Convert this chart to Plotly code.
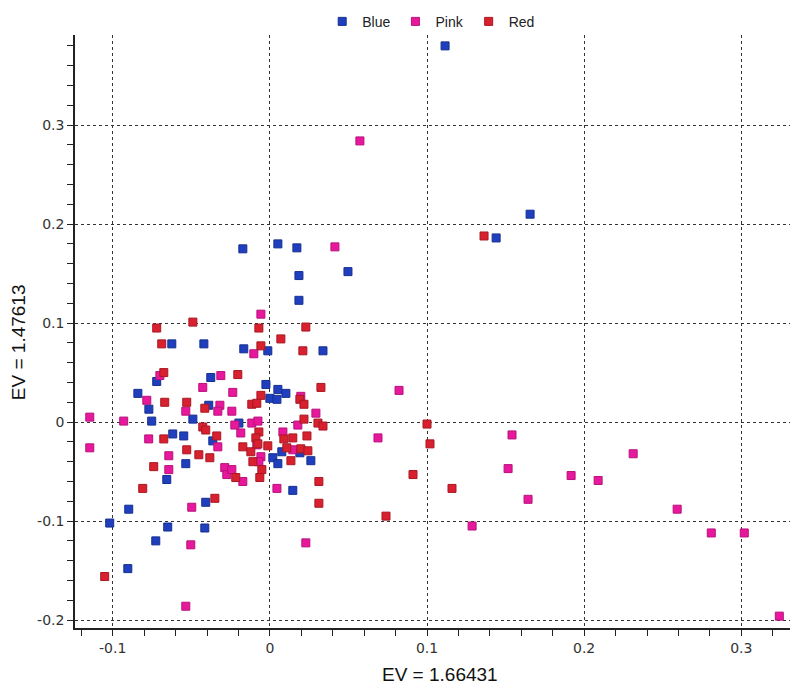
import plotly.graph_objects as go

blue_x = [0.1115, 0.1656, 0.144, 0.0497, 0.0051, -0.0172, 0.0172, 0.0185, 0.0185, 0.0338,
          -0.0624, -0.042, -0.0166, -0.0013, -0.072, -0.0376, -0.084, -0.077, -0.0389, -0.0752,
          -0.049, -0.0618, -0.0548, -0.0025, 0.000, 0.0045, 0.0051, 0.0102, -0.0197, -0.0363,
          -0.0535, -0.0656, -0.0898, -0.0408, -0.1019, -0.0904, -0.0726, -0.065, -0.0414, 0.0146,
          0.0019, 0.0051, 0.0076, 0.0191, 0.0261]
blue_y = [0.380, 0.210, 0.186, 0.152, 0.180, 0.175, 0.176, 0.148, 0.123, 0.072,
          0.079, 0.079, 0.074, 0.072, 0.041, 0.045, 0.029, 0.013, 0.017, 0.001,
          0.003, -0.012, -0.014, 0.038, 0.024, 0.023, 0.033, 0.029, -0.001, -0.019,
          -0.042, -0.058, -0.088, -0.081, -0.102, -0.148, -0.120, -0.106, -0.107, -0.069,
          -0.036, -0.042, -0.030, -0.031, -0.039]

pink_x = [0.0573, 0.0414, -0.0057, -0.0102, -0.070, -0.0427, -0.0783, -0.0535, -0.1146, -0.093,
          -0.0771, -0.0312, -0.0236, 0.0197, -0.0318, -0.0331, -0.0242, 0.0293, 0.0178, -0.0223,
          -0.0115, -0.0076, -0.0185, 0.0083, -0.1146, -0.0643, -0.0643, -0.0497, -0.0331, -0.0057,
          -0.007, -0.0287, -0.0274, -0.0242, -0.0172, 0.0045, 0.0146, -0.0503, -0.0535, 0.0229,
          0.0822, 0.0688, 0.1541, 0.1516, 0.1643, 0.1287, 0.1917, 0.2089, 0.2312, 0.2592,
          0.2809, 0.3019, 0.3242, -0.0083]
pink_y = [0.284, 0.177, 0.109, 0.069, 0.047, 0.035, 0.022, 0.011, 0.005, 0.001,
          -0.017, 0.047, 0.030, 0.026, 0.017, 0.011, 0.011, 0.009, -0.003, -0.003,
          -0.001, 0.001, -0.011, -0.010, -0.026, -0.034, -0.048, -0.086, -0.025, -0.035,
          -0.040, -0.046, -0.053, -0.048, -0.060, -0.067, -0.028, -0.124, -0.186, -0.122,
          0.032, -0.016, -0.013, -0.047, -0.078, -0.105, -0.054, -0.059, -0.032, -0.088,
          -0.112, -0.112, -0.196, -0.023]

red_x = [0.1363, 0.1000, 0.1019, 0.0911, 0.1159, 0.0739, -0.072, -0.049, -0.0688, -0.007,
         0.0229, 0.007, -0.0057, 0.021, -0.0675, -0.0669, -0.0529, -0.0414, -0.0427, -0.0408,
         -0.0675, -0.0204, -0.0057, 0.0325, 0.0191, 0.0217, -0.0115, -0.0083, 0.0217, 0.0306,
         0.0338, -0.007, -0.0338, 0.0146, 0.0236, -0.0089, -0.0529, -0.0452, -0.0382, -0.0739,
         -0.0809, -0.035, -0.0172, -0.0121, -0.0076, -0.0013, -0.0108, -0.0051, -0.0064, -0.0217,
         0.0312, 0.0312, 0.0089, 0.0108, 0.0197, 0.0242, 0.0134, -0.1051]
red_y = [0.188, -0.002, -0.022, -0.053, -0.067, -0.095, 0.095, 0.101, 0.079, 0.095,
         0.096, 0.084, 0.077, 0.072, 0.050, 0.020, 0.020, 0.014, -0.005, -0.008,
         -0.017, 0.048, 0.027, 0.035, 0.023, 0.018, 0.018, 0.019, 0.003, -0.001,
         -0.004, -0.010, -0.014, -0.016, -0.014, -0.016, -0.028, -0.033, -0.036, -0.045,
         -0.067, -0.077, -0.025, -0.030, -0.022, -0.024, -0.040, -0.048, -0.056, -0.056,
         -0.060, -0.082, -0.017, -0.026, -0.027, -0.029, -0.039, -0.156]

series_names = ["Blue", "Pink", "Red"]
series_colors = ["#1f3fbf", "#e8189c", "#d8202e"]
series_edges = ["#16308f", "#b8127c", "#a81824"]

x_ticks = [-0.1, 0, 0.1, 0.2, 0.3]
x_tick_labels = ["-0.1", "0", "0.1", "0.2", "0.3"]
y_ticks = [-0.2, -0.1, 0, 0.1, 0.2, 0.3]
y_tick_labels = ["-0.2", "-0.1", "0", "0.1", "0.2", "0.3"]
x_title = "EV = 1.66431"
y_title = "EV = 1.47613"

fig = go.Figure()
for name, xs, ys, c, e in zip(series_names, [blue_x, pink_x, red_x], [blue_y, pink_y, red_y],
                              series_colors, series_edges):
    fig.add_trace(go.Scatter(
        x=xs, y=ys, mode="markers", name=name,
        marker=dict(symbol="square", size=8, color=c, line=dict(color=e, width=1)),
    ))

axis_common = dict(
    showline=True, linecolor="#222", linewidth=1.5, mirror=False,
    showgrid=True, gridcolor="#333", gridwidth=1, griddash="dot",
    zeroline=False, ticks="outside", ticklen=6, tickcolor="#222",
    tickfont=dict(family="DejaVu Sans", size=14, color="#333"),
    minor=dict(dtick=0.02, ticks="outside", ticklen=6, tickcolor="#222", showgrid=False),
    automargin=False,
)

fig.update_xaxes(range=[-0.124, 0.331], tickvals=x_ticks, ticktext=x_tick_labels, **axis_common)
fig.update_yaxes(range=[-0.208, 0.391], tickvals=y_ticks, ticktext=y_tick_labels, **axis_common)

title_font = dict(family="Liberation Sans", size=19, color="#111")
fig.add_annotation(text=x_title, xref="paper", yref="paper", x=0.5105, y=-0.079,
                   xanchor="center", yanchor="middle", showarrow=False, font=title_font)
fig.add_annotation(text=y_title, xref="paper", yref="paper", x=-0.0797, y=0.482,
                   xanchor="center", yanchor="middle", showarrow=False, textangle=-90,
                   font=title_font)

fig.update_layout(
    width=800, height=689,
    margin=dict(l=67, r=18, t=27, b=69, autoexpand=False),
    paper_bgcolor="white", plot_bgcolor="white",
    showlegend=True,
    legend=dict(orientation="h", x=0.529, xanchor="center", xref="container",
                y=0.98, yanchor="middle", yref="container",
                font=dict(family="Liberation Sans Narrow, Liberation Sans", size=14, color="#222"),
                itemwidth=30, bgcolor="rgba(0,0,0,0)"),
)

fig.write_html("out.html")
